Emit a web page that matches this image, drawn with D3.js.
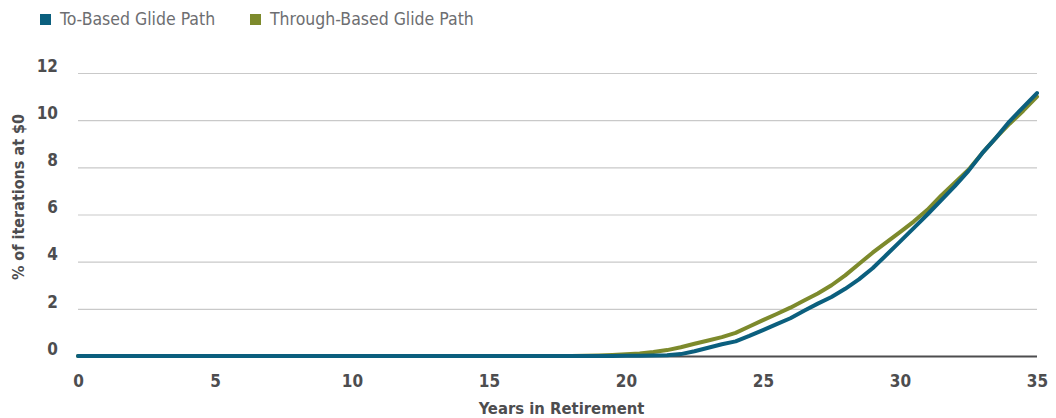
<!DOCTYPE html>
<html>
<head>
<meta charset="utf-8">
<script src="https://cdn.jsdelivr.net/npm/d3@7"></script>
<style>
  body { margin: 0; background: #fff; }
  .chart text { font-family: "Liberation Sans Narrow", "DejaVu Sans Condensed", Roboto, sans-serif; }
</style>
</head>
<body>
<div class="chart"></div>
<script>
// years on the x axis, % of iterations at $0 for each glide path
var years = [0, 5, 10, 15, 18, 18.5, 19, 19.5, 20, 20.5, 21, 21.5, 22, 22.5, 23, 23.5, 24, 24.5,
  25, 25.5, 26, 26.5, 27, 27.5, 28, 28.5, 29, 29.5, 30, 30.5, 31, 31.5, 32, 32.5, 33, 33.5, 34, 34.5, 35];

var toBased = [0, 0, 0, 0, 0, 0, 0, 0, 0.01, 0.01, 0.02, 0.03, 0.08, 0.2, 0.35, 0.5, 0.62, 0.85,
  1.1, 1.35, 1.6, 1.92, 2.22, 2.5, 2.85, 3.25, 3.72, 4.28, 4.85, 5.42, 6.0, 6.6, 7.2, 7.85, 8.6, 9.25, 9.95, 10.55, 11.15];

var throughBased = [0, 0, 0, 0, 0, 0.01, 0.02, 0.04, 0.07, 0.11, 0.17, 0.25, 0.37, 0.52, 0.66, 0.8, 0.98, 1.25,
  1.52, 1.78, 2.05, 2.35, 2.65, 3.0, 3.42, 3.9, 4.38, 4.82, 5.25, 5.7, 6.2, 6.8, 7.35, 7.9, 8.6, 9.25, 9.85, 10.4, 11.0];

var xTicks = [0, 5, 10, 15, 20, 25, 30, 35];
var yTicks = [0, 2, 4, 6, 8, 10, 12];

var seriesNames = ["To-Based Glide Path", "Through-Based Glide Path"];
var seriesColors = ["#0b5f7e", "#7d8a2c"];

var svgWidth = 1056;
var svgHeight = 418;

var margin = {
  top: 73,
  right: 19,
  bottom: 62,
  left: 78
};

var width = svgWidth - margin.left - margin.right;
var height = svgHeight - margin.top - margin.bottom;

var svg = d3.select(".chart")
  .append("svg")
  .attr("width", svgWidth)
  .attr("height", svgHeight);

var chartGroup = svg.append("g")
  .attr("transform", `translate(${margin.left}, ${margin.top})`);

var xLinearScale = d3.scaleLinear()
  .domain([0, 35])
  .range([0, width]);

var yLinearScale = d3.scaleLinear()
  .domain([0, 12])
  .range([height, 0]);

// gridlines + y labels
var leftAxis = d3.axisLeft(yLinearScale)
  .tickValues(yTicks)
  .tickSize(-width)
  .tickPadding(20);

var yAxisG = chartGroup.append("g").call(leftAxis);
yAxisG.select(".domain").remove();
yAxisG.selectAll(".tick line")
  .attr("stroke", d => d === 0 ? "#4d4d4f" : "#c9c9c9")
  .attr("stroke-width", d => d === 0 ? 2 : 1.2);
yAxisG.selectAll(".tick text")
  .attr("fill", "#4d4d4f")
  .attr("font-size", 17)
  .attr("font-weight", "bold")
  .attr("dy", "-0.1em");

var bottomAxis = d3.axisBottom(xLinearScale)
  .tickValues(xTicks)
  .tickSize(0)
  .tickPadding(19);

var xAxisG = chartGroup.append("g")
  .attr("transform", `translate(0, ${height})`)
  .call(bottomAxis);
xAxisG.select(".domain").remove();
xAxisG.selectAll(".tick text")
  .attr("fill", "#4d4d4f")
  .attr("font-size", 17)
  .attr("font-weight", "bold");

// lines: through-based first, to-based on top
var line = d3.line()
  .x((d, i) => xLinearScale(years[i]))
  .y(d => yLinearScale(d));

chartGroup.append("path")
  .datum(throughBased)
  .attr("fill", "none")
  .attr("stroke", seriesColors[1])
  .attr("stroke-width", 4)
  .attr("stroke-linejoin", "round")
  .attr("stroke-linecap", "round")
  .attr("d", line);

chartGroup.append("path")
  .datum(toBased)
  .attr("fill", "none")
  .attr("stroke", seriesColors[0])
  .attr("stroke-width", 4)
  .attr("stroke-linejoin", "round")
  .attr("stroke-linecap", "round")
  .attr("d", line);

// axis titles
chartGroup.append("text")
  .attr("transform", "rotate(-90)")
  .attr("x", 0 - 124)
  .attr("y", 0 - margin.left + 24)
  .attr("text-anchor", "middle")
  .attr("fill", "#4d4d4f")
  .attr("font-size", 16)
  .attr("font-weight", "bold")
  .text("% of iterations at $0");

chartGroup.append("text")
  .attr("x", width / 2 + 4)
  .attr("y", height + 58)
  .attr("text-anchor", "middle")
  .attr("fill", "#4d4d4f")
  .attr("font-size", 16.5)
  .attr("font-weight", "bold")
  .text("Years in Retirement");

// legend
var legendX = [40, 250];
var legend = svg.selectAll(".legend")
  .data(seriesNames)
  .enter()
  .append("g")
  .attr("class", "legend")
  .attr("transform", (d, i) => `translate(${legendX[i]}, 12)`);

legend.append("rect")
  .attr("width", 11)
  .attr("height", 11)
  .attr("y", 2)
  .attr("fill", (d, i) => seriesColors[i]);

legend.append("text")
  .attr("x", 20)
  .attr("y", 13)
  .attr("fill", "#6d6e71")
  .attr("font-size", 17.5)
  .text(d => d);
</script>
</body>
</html>
